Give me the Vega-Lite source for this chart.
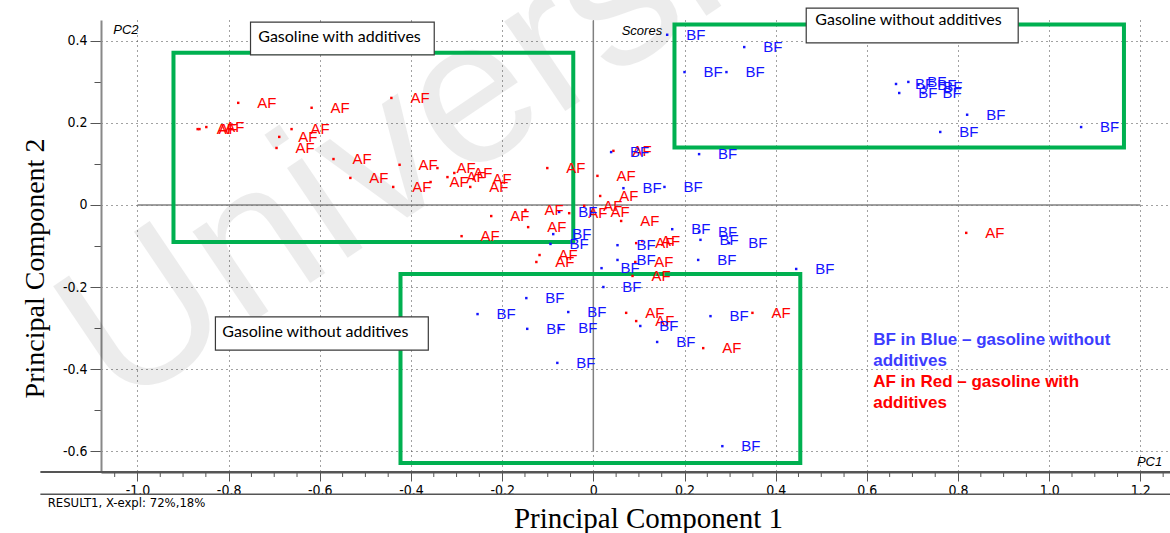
{
  "$schema": "https://vega.github.io/schema/vega-lite/v6.json",
  "width": 1069,
  "height": 452,
  "autosize": {"type": "none"},
  "padding": {"left": 101, "top": 20, "right": 0, "bottom": 61},
  "background": "white",
  "config": {"view": {"stroke": null}},
  "datasets": {
    "scores": [
      {"pc1": -0.779, "pc2": 0.249, "grp": "AF"},
      {"pc1": -0.618, "pc2": 0.237, "grp": "AF"},
      {"pc1": -0.868, "pc2": 0.185, "grp": "AF"},
      {"pc1": -0.864, "pc2": 0.185, "grp": "AF"},
      {"pc1": -0.849, "pc2": 0.190, "grp": "AF"},
      {"pc1": -0.662, "pc2": 0.185, "grp": "AF"},
      {"pc1": -0.689, "pc2": 0.166, "grp": "AF"},
      {"pc1": -0.695, "pc2": 0.139, "grp": "AF"},
      {"pc1": -0.570, "pc2": 0.112, "grp": "AF"},
      {"pc1": -0.533, "pc2": 0.066, "grp": "AF"},
      {"pc1": -0.443, "pc2": 0.261, "grp": "AF"},
      {"pc1": -0.439, "pc2": 0.044, "grp": "AF"},
      {"pc1": -0.425, "pc2": 0.098, "grp": "AF"},
      {"pc1": -0.342, "pc2": 0.090, "grp": "AF"},
      {"pc1": -0.357, "pc2": 0.056, "grp": "AF"},
      {"pc1": -0.320, "pc2": 0.068, "grp": "AF"},
      {"pc1": -0.305, "pc2": 0.078, "grp": "AF"},
      {"pc1": -0.263, "pc2": 0.063, "grp": "AF"},
      {"pc1": -0.270, "pc2": 0.044, "grp": "AF"},
      {"pc1": -0.101, "pc2": 0.090, "grp": "AF"},
      {"pc1": 0.009, "pc2": 0.071, "grp": "AF"},
      {"pc1": 0.015, "pc2": 0.022, "grp": "AF"},
      {"pc1": 0.044, "pc2": 0.132, "grp": "AF"},
      {"pc1": -0.053, "pc2": -0.020, "grp": "AF"},
      {"pc1": -0.020, "pc2": -0.002, "grp": "AF"},
      {"pc1": -0.004, "pc2": -0.017, "grp": "AF"},
      {"pc1": -0.224, "pc2": -0.027, "grp": "AF"},
      {"pc1": -0.149, "pc2": -0.012, "grp": "AF"},
      {"pc1": -0.143, "pc2": -0.054, "grp": "AF"},
      {"pc1": -0.289, "pc2": -0.076, "grp": "AF"},
      {"pc1": -0.118, "pc2": -0.122, "grp": "AF"},
      {"pc1": -0.125, "pc2": -0.139, "grp": "AF"},
      {"pc1": 0.061, "pc2": -0.039, "grp": "AF"},
      {"pc1": 0.094, "pc2": -0.093, "grp": "AF"},
      {"pc1": 0.107, "pc2": -0.088, "grp": "AF"},
      {"pc1": 0.092, "pc2": -0.139, "grp": "AF"},
      {"pc1": 0.086, "pc2": -0.173, "grp": "AF"},
      {"pc1": 0.072, "pc2": -0.263, "grp": "AF"},
      {"pc1": 0.094, "pc2": -0.283, "grp": "AF"},
      {"pc1": 0.349, "pc2": -0.263, "grp": "AF"},
      {"pc1": 0.241, "pc2": -0.349, "grp": "AF"},
      {"pc1": 0.818, "pc2": -0.068, "grp": "AF"},
      {"pc1": 0.162, "pc2": 0.415, "grp": "BF"},
      {"pc1": 0.331, "pc2": 0.385, "grp": "BF"},
      {"pc1": 0.200, "pc2": 0.324, "grp": "BF"},
      {"pc1": 0.292, "pc2": 0.324, "grp": "BF"},
      {"pc1": 0.664, "pc2": 0.295, "grp": "BF"},
      {"pc1": 0.691, "pc2": 0.300, "grp": "BF"},
      {"pc1": 0.713, "pc2": 0.293, "grp": "BF"},
      {"pc1": 0.671, "pc2": 0.273, "grp": "BF"},
      {"pc1": 0.724, "pc2": 0.273, "grp": "BF"},
      {"pc1": 0.726, "pc2": 0.288, "grp": "BF"},
      {"pc1": 0.820, "pc2": 0.220, "grp": "BF"},
      {"pc1": 0.761, "pc2": 0.178, "grp": "BF"},
      {"pc1": 1.070, "pc2": 0.190, "grp": "BF"},
      {"pc1": 0.039, "pc2": 0.129, "grp": "BF"},
      {"pc1": 0.066, "pc2": 0.041, "grp": "BF"},
      {"pc1": 0.156, "pc2": 0.044, "grp": "BF"},
      {"pc1": 0.232, "pc2": 0.124, "grp": "BF"},
      {"pc1": -0.075, "pc2": -0.017, "grp": "BF"},
      {"pc1": -0.088, "pc2": -0.071, "grp": "BF"},
      {"pc1": -0.094, "pc2": -0.095, "grp": "BF"},
      {"pc1": 0.173, "pc2": -0.059, "grp": "BF"},
      {"pc1": 0.232, "pc2": -0.066, "grp": "BF"},
      {"pc1": 0.235, "pc2": -0.085, "grp": "BF"},
      {"pc1": 0.298, "pc2": -0.093, "grp": "BF"},
      {"pc1": 0.445, "pc2": -0.156, "grp": "BF"},
      {"pc1": 0.053, "pc2": -0.098, "grp": "BF"},
      {"pc1": 0.230, "pc2": -0.134, "grp": "BF"},
      {"pc1": 0.053, "pc2": -0.134, "grp": "BF"},
      {"pc1": 0.018, "pc2": -0.154, "grp": "BF"},
      {"pc1": 0.022, "pc2": -0.200, "grp": "BF"},
      {"pc1": -0.147, "pc2": -0.227, "grp": "BF"},
      {"pc1": -0.254, "pc2": -0.266, "grp": "BF"},
      {"pc1": -0.055, "pc2": -0.261, "grp": "BF"},
      {"pc1": -0.145, "pc2": -0.302, "grp": "BF"},
      {"pc1": -0.075, "pc2": -0.300, "grp": "BF"},
      {"pc1": -0.079, "pc2": -0.385, "grp": "BF"},
      {"pc1": 0.103, "pc2": -0.295, "grp": "BF"},
      {"pc1": 0.140, "pc2": -0.334, "grp": "BF"},
      {"pc1": 0.257, "pc2": -0.271, "grp": "BF"},
      {"pc1": 0.283, "pc2": -0.588, "grp": "BF"}
    ],
    "groups": [
      {"x1": -0.921, "x2": -0.044, "y1": 0.371, "y2": -0.090},
      {"x1": 0.178, "x2": 1.164, "y1": 0.440, "y2": 0.140},
      {"x1": -0.423, "x2": 0.454, "y1": -0.168, "y2": -0.629}
    ],
    "notes": [
      {"x1": -0.752, "x2": -0.349, "y1": 0.446, "y2": 0.366, "tx": -0.735, "ty": 0.410, "label": "Gasoline with additives"},
      {"x1": 0.467, "x2": 0.932, "y1": 0.480, "y2": 0.395, "tx": 0.487, "ty": 0.451, "label": "Gasoline without additives"},
      {"x1": -0.829, "x2": -0.362, "y1": -0.273, "y2": -0.354, "tx": -0.814, "ty": -0.310, "label": "Gasoline without additives"}
    ],
    "xminor": [
      {"t": -1.05}, {"t": -0.95}, {"t": -0.9}, {"t": -0.85}, {"t": -0.75}, {"t": -0.7}, {"t": -0.65},
      {"t": -0.55}, {"t": -0.5}, {"t": -0.45}, {"t": -0.35}, {"t": -0.3}, {"t": -0.25},
      {"t": -0.15}, {"t": -0.1}, {"t": -0.05}, {"t": 0.05}, {"t": 0.1}, {"t": 0.15},
      {"t": 0.25}, {"t": 0.3}, {"t": 0.35}, {"t": 0.45}, {"t": 0.5}, {"t": 0.55},
      {"t": 0.65}, {"t": 0.7}, {"t": 0.75}, {"t": 0.85}, {"t": 0.9}, {"t": 0.95},
      {"t": 1.05}, {"t": 1.1}, {"t": 1.15}, {"t": 1.25}
    ]
  },
  "layer": [
    {
      "data": {"values": [{}]},
      "mark": {"type": "text", "text": "University", "angle": -34, "align": "left", "baseline": "alphabetic", "fontSize": 205, "font": "Liberation Sans", "color": "#000000", "opacity": 0.07},
      "encoding": {"x": {"datum": -1.0405, "type": "quantitative"}, "y": {"datum": -0.505, "type": "quantitative"}}
    },
    {
      "data": {"values": [{}]},
      "mark": {"type": "rule", "color": "#808080", "strokeWidth": 1.5},
      "encoding": {"x": {"datum": -1.0, "type": "quantitative"}, "x2": {"datum": 1.2}, "y": {"datum": 0, "type": "quantitative"}}
    },
    {
      "data": {"values": [{}]},
      "mark": {"type": "rule", "color": "#808080", "strokeWidth": 1.5},
      "encoding": {"x": {"datum": 0, "type": "quantitative"}, "y": {"datum": -0.6, "type": "quantitative"}, "y2": {"datum": 0.45}}
    },
    {
      "data": {"values": [{}]},
      "mark": {"type": "rule", "color": "#555555", "strokeWidth": 2},
      "encoding": {"x": {"datum": -1.213, "type": "quantitative"}, "x2": {"datum": 1.265}, "y": {"datum": -0.651, "type": "quantitative"}}
    },
    {
      "data": {"values": [{}]},
      "mark": {"type": "rule", "color": "#555555", "strokeWidth": 1.5},
      "encoding": {"x": {"datum": -1.213, "type": "quantitative"}, "x2": {"datum": 1.265}, "y": {"datum": -0.705, "type": "quantitative"}}
    },
    {
      "data": {"name": "xminor"},
      "mark": {"type": "rule", "color": "#555555", "strokeWidth": 1},
      "encoding": {"x": {"field": "t", "type": "quantitative"}, "y": {"datum": -0.651, "type": "quantitative"}, "y2": {"datum": -0.6632}}
    },
    {
      "data": {"name": "groups"},
      "mark": {"type": "rect", "filled": false, "stroke": "#00b050", "strokeWidth": 4},
      "encoding": {
        "x": {"field": "x1", "type": "quantitative"},
        "x2": {"field": "x2"},
        "y": {"field": "y1", "type": "quantitative"},
        "y2": {"field": "y2"}
      }
    },
    {
      "data": {"name": "notes"},
      "layer": [
        {
          "mark": {"type": "rect", "fill": "white", "stroke": "#3a3a3a", "strokeWidth": 1.2},
          "encoding": {
            "x": {"field": "x1", "type": "quantitative"},
            "x2": {"field": "x2"},
            "y": {"field": "y1", "type": "quantitative"},
            "y2": {"field": "y2"}
          }
        },
        {
          "mark": {"type": "text", "align": "left", "baseline": "middle", "font": "Lato", "fontSize": 16, "color": "#000000"},
          "encoding": {
            "x": {"field": "tx", "type": "quantitative"},
            "y": {"field": "ty", "type": "quantitative"},
            "text": {"field": "label"}
          }
        }
      ]
    },
    {
      "data": {"name": "scores"},
      "encoding": {
        "x": {
          "field": "pc1", "type": "quantitative",
          "scale": {"domain": [-1.08, 1.265], "nice": false, "zero": false},
          "axis": {
            "title": "Principal Component 1",
            "titleFont": "Liberation Serif", "titleFontSize": 29, "titleFontWeight": "normal", "titleColor": "#000000",
            "titleX": 547, "titleY": 46, "titleBaseline": "middle", "titleAlign": "center",
            "values": [-1, -0.8, -0.6, -0.4, -0.2, 0, 0.2, 0.4, 0.6, 0.8, 1, 1.2],
            "labelExpr": "abs(datum.value) < 0.001 ? '0' : (datum.value < 0 ? '-' + format(-datum.value, '.1f') : format(datum.value, '.1f'))",
            "labelFont": "Liberation Sans Narrow, DejaVu Sans Condensed, sans-serif", "labelFontSize": 14, "labelColor": "#000000",
            "labelPadding": 2, "labelOverlap": false, "labelFlush": false, "labelBound": false,
            "domainColor": "#555555", "domainWidth": 2,
            "tickColor": "#555555", "tickWidth": 1, "tickSize": 9,
            "grid": true, "gridColor": "#444444", "gridDash": [1, 4], "gridWidth": 1
          }
        },
        "y": {
          "field": "pc2", "type": "quantitative",
          "scale": {"domain": [-0.651, 0.451], "nice": false, "zero": false},
          "axis": {
            "title": "Principal Component 2",
            "titleFont": "Liberation Serif", "titleFontSize": 28, "titleFontWeight": "normal", "titleColor": "#000000",
            "titleX": -66, "titleY": 248, "titleBaseline": "middle", "titleAlign": "center", "titleAngle": -90,
            "values": [-0.6, -0.55, -0.5, -0.45, -0.4, -0.35, -0.3, -0.25, -0.2, -0.15, -0.1, -0.05, 0, 0.05, 0.1, 0.15, 0.2, 0.25, 0.3, 0.35, 0.4],
            "labelExpr": "abs(datum.value*5 - round(datum.value*5)) > 0.01 ? '' : (abs(datum.value) < 0.001 ? '0' : (datum.value < 0 ? '-' + format(-datum.value, '.1f') : format(datum.value, '.1f')))",
            "labelFont": "Liberation Sans Narrow, DejaVu Sans Condensed, sans-serif", "labelFontSize": 14, "labelColor": "#000000",
            "labelPadding": 3, "labelOverlap": false, "labelFlush": false, "labelBound": false,
            "domainColor": "#888888", "domainWidth": 2,
            "tickColor": "#555555", "tickWidth": 1,
            "tickSize": {"condition": {"test": "abs(datum.value*5 - round(datum.value*5)) > 0.01", "value": 7}, "value": 11},
            "grid": true, "gridColor": "#444444", "gridDash": [1, 4], "gridWidth": 1,
            "gridOpacity": {"condition": {"test": "abs(datum.value*5 - round(datum.value*5)) > 0.01", "value": 0}, "value": 1}
          }
        },
        "color": {"field": "grp", "type": "nominal", "scale": {"domain": ["AF", "BF"], "range": ["#ff0000", "#1414ff"]}, "legend": null}
      },
      "layer": [
        {"mark": {"type": "point", "shape": "square", "filled": true, "size": 6, "opacity": 1}},
        {"mark": {"type": "text", "align": "left", "baseline": "middle", "dx": 19, "font": "Liberation Sans", "fontSize": 15}, "encoding": {"text": {"field": "grp"}}}
      ]
    },
    {
      "data": {"values": [{}]},
      "mark": {"type": "text", "text": ["BF in Blue – gasoline without", "additives"], "align": "left", "baseline": "top", "lineHeight": 21, "font": "Liberation Sans", "fontWeight": "bold", "fontSize": 17, "color": "#3c3cff"},
      "encoding": {"x": {"datum": 0.614, "type": "quantitative"}, "y": {"datum": -0.31, "type": "quantitative"}}
    },
    {
      "data": {"values": [{}]},
      "mark": {"type": "text", "text": ["AF in Red – gasoline with", "additives"], "align": "left", "baseline": "top", "lineHeight": 21, "font": "Liberation Sans", "fontWeight": "bold", "fontSize": 17, "color": "#ff0000"},
      "encoding": {"x": {"datum": 0.614, "type": "quantitative"}, "y": {"datum": -0.412, "type": "quantitative"}}
    },
    {
      "data": {"values": [{}]},
      "mark": {"type": "text", "text": "PC2", "align": "left", "baseline": "middle", "font": "Liberation Sans", "fontStyle": "italic", "fontSize": 13, "color": "#000000"},
      "encoding": {"x": {"datum": -1.053, "type": "quantitative"}, "y": {"datum": 0.427, "type": "quantitative"}}
    },
    {
      "data": {"values": [{}]},
      "mark": {"type": "text", "text": "Scores", "align": "right", "baseline": "middle", "font": "Liberation Sans", "fontStyle": "italic", "fontSize": 13, "color": "#000000"},
      "encoding": {"x": {"datum": 0.151, "type": "quantitative"}, "y": {"datum": 0.424, "type": "quantitative"}}
    },
    {
      "data": {"values": [{}]},
      "mark": {"type": "text", "text": "PC1", "align": "right", "baseline": "middle", "font": "Liberation Sans", "fontStyle": "italic", "fontSize": 13, "color": "#000000"},
      "encoding": {"x": {"datum": 1.248, "type": "quantitative"}, "y": {"datum": -0.627, "type": "quantitative"}}
    },
    {
      "data": {"values": [{}]},
      "mark": {"type": "text", "text": "RESULT1, X-expl: 72%,18%", "align": "left", "baseline": "middle", "font": "Liberation Sans Narrow, DejaVu Sans Condensed, sans-serif", "fontSize": 13, "color": "#000000"},
      "encoding": {"x": {"datum": -1.197, "type": "quantitative"}, "y": {"datum": -0.727, "type": "quantitative"}}
    }
  ]
}
